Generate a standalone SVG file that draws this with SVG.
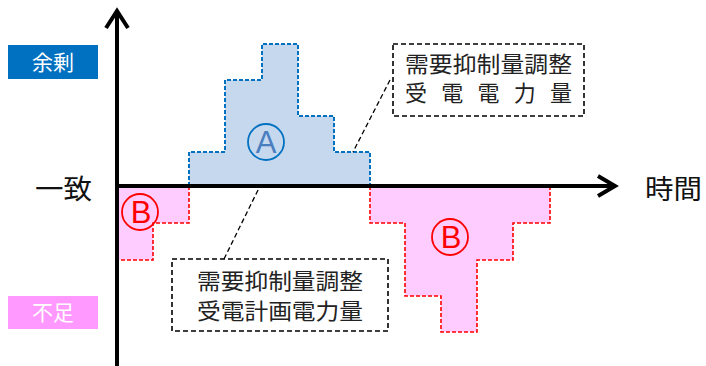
<svg xmlns="http://www.w3.org/2000/svg" width="706" height="366" viewBox="0 0 706 366">
<style>
.jp{font-family:"Noto Sans CJK JP","Liberation Sans",sans-serif;}
.area-a{fill:#C5D8EE;stroke:#0070C0;stroke-width:2;stroke-dasharray:4 2;}
.area-b{fill:#FFCCFF;stroke:#FF0000;stroke-width:1.6;stroke-dasharray:4 2;}
.callout{fill:#FFFFFF;stroke:#000000;stroke-width:1.6;stroke-dasharray:5 3;}
.leader{fill:none;stroke:#000000;stroke-width:1.3;stroke-dasharray:5 3;}
.axis{fill:none;stroke:#000000;stroke-width:4;}
.lbl{font-size:22px;fill:#222222;}
.mark{font-family:"Liberation Sans",sans-serif;font-size:31px;text-anchor:middle;}
</style>
<rect width="706" height="366" fill="#FFFFFF"/>
<g id="area-A">
<polygon class="area-a" points="189,186 189,152 225,152 225,80 262,80 262,44 298,44 298,116 334,116 334,152 370,152 370,186"/>
<circle cx="266" cy="142" r="18" fill="none" stroke="#0070C0" stroke-width="1.8"/>
<text class="mark" x="266" y="153" fill="#4A7EC0">A</text>
</g>
<g id="area-B-left">
<polygon class="area-b" points="117,186 189,186 189,223 153,223 153,260 117,260"/>
<circle cx="140" cy="212" r="18" fill="none" stroke="#FF0000" stroke-width="1.8"/>
<text class="mark" x="141" y="223" fill="#FF0000">B</text>
</g>
<g id="area-B-right">
<polygon class="area-b" points="370,186 550,186 550,223 513,223 513,260 477,260 477,332 441,332 441,296 405,296 405,223 370,223"/>
<circle cx="450" cy="237" r="18" fill="none" stroke="#FF0000" stroke-width="1.8"/>
<text class="mark" x="451" y="248" fill="#FF0000">B</text>
</g>
<g id="axes">
<line class="axis" x1="117" y1="12" x2="117" y2="366"/>
<polyline class="axis" points="106,28 117,11 128,28"/>
<line class="axis" x1="117" y1="186" x2="614" y2="186"/>
<polyline class="axis" points="598,176 615,186 598,196"/>
</g>
<g id="connectors">
<line class="leader" x1="390" y1="80" x2="353" y2="152"/>
<line class="leader" x1="224" y1="259" x2="259" y2="188"/>
</g>
<g id="callout-top">
<rect class="callout" x="393" y="44" width="191" height="72"/>
<text class="jp lbl" x="405" y="72" textLength="167" lengthAdjust="spacingAndGlyphs">需要抑制量調整</text>
<text class="jp lbl" x="405" y="101" textLength="167" lengthAdjust="spacing">受電電力量</text>
</g>
<g id="callout-bottom">
<rect class="callout" x="172" y="259" width="216" height="72"/>
<text class="jp lbl" x="197" y="289" textLength="166" lengthAdjust="spacingAndGlyphs">需要抑制量調整</text>
<text class="jp lbl" x="197" y="319" textLength="166" lengthAdjust="spacingAndGlyphs">受電計画電力量</text>
</g>
<g id="label-surplus">
<rect x="8" y="45" width="90" height="34" fill="#0070C0"/>
<text class="jp" x="53" y="70" font-size="21" fill="#FFFFFF" text-anchor="middle">余剰</text>
</g>
<g id="label-shortage">
<rect x="8" y="296" width="90" height="33" fill="#FF99FF"/>
<text class="jp" x="53" y="320" font-size="21" fill="#FFFFFF" text-anchor="middle">不足</text>
</g>
<g id="label-match">
<text class="jp" x="35" y="199" font-size="27" fill="#111111" textLength="57" lengthAdjust="spacingAndGlyphs">一致</text>
</g>
<g id="label-time">
<text class="jp" x="645" y="199" font-size="27" fill="#111111" textLength="57" lengthAdjust="spacingAndGlyphs">時間</text>
</g>
</svg>
